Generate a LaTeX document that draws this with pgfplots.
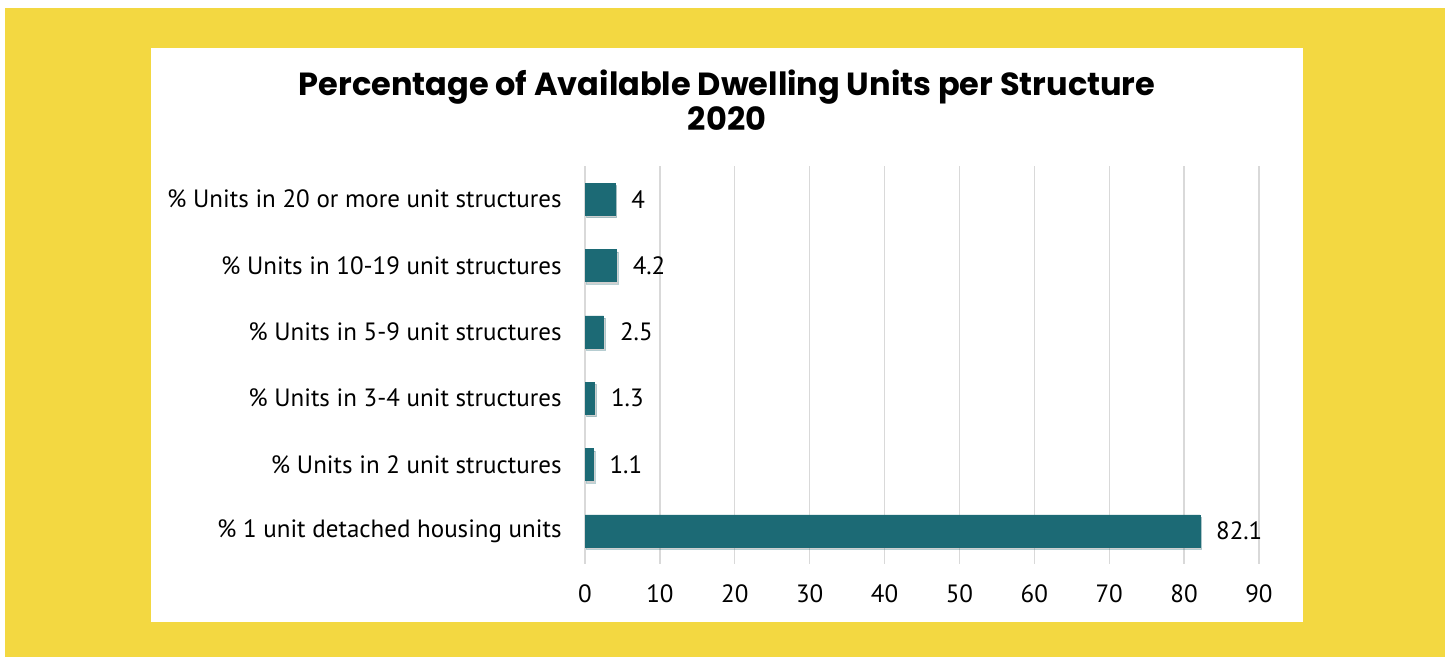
\documentclass[border=0pt]{standalone}
\usepackage{pgfplots}
\pgfplotsset{compat=1.18}
\usepackage{fontspec}
\setmainfont{PT Sans}
\newfontfamily\titlefont{Poppins}
\usetikzlibrary{shadows}
\definecolor{bgyellow}{HTML}{F3D841}
\definecolor{barteal}{HTML}{1C6A75}
\definecolor{gridgray}{HTML}{D9D9D9}
\begin{document}
\begin{tikzpicture}[x=0.5pt,y=0.5pt]
\fill[white] (0,0) rectangle (1445,657);
\fill[bgyellow] (5,0) rectangle (1445,649);
\fill[white] (151,35) rectangle (1303,609);
\node[align=center,font=\titlefont\bfseries\fontsize{16}{16}\selectfont] at (727,557) {Percentage of Available Dwelling Units per Structure\\2020};
\begin{axis}[
  at={(292.5pt,46.5pt)}, anchor=south west,
  scale only axis, width=337pt, height=199pt,
  xbar, bar width=16pt,
  xmin=0, xmax=90, ymin=-0.5, ymax=5.5,
  xtick={0,10,...,90},
  ytick={0,1,2,3,4,5},
  yticklabels={\% 1 unit detached housing units,\% Units in 2 unit structures,\% Units in 3-4 unit structures,\% Units in 5-9 unit structures,\% Units in 10-19 unit structures,\% Units in 20 or more unit structures},
  axis line style={draw=none},
  major tick length=0pt,
  xmajorgrids, ymajorgrids=false,
  grid style={gridgray, line width=0.7pt},
  tick label style={font=\fontsize{12.5}{14}\selectfont},
  /pgf/number format/assume math mode=true,
  yticklabel style={inner sep=0pt, xshift=-11.5pt},
  xticklabel style={inner sep=0pt, yshift=-10pt},
  nodes near coords,
  nodes near coords style={font=\fontsize{12.5}{14}\selectfont, anchor=west, inner sep=0pt, xshift=8pt, text=black},
  point meta=explicit symbolic,
  clip=false,
]
\addplot[fill=barteal, draw=barteal, line width=0.3pt,
  drop shadow={opacity=0.3, fill=black!60, shadow xshift=0.8pt, shadow yshift=-1.2pt}]
  coordinates {(82.1,0) [82.1] (1.1,1) [1.1] (1.3,2) [1.3] (2.5,3) [2.5] (4.2,4) [4.2] (4,5) [4]};
\end{axis}
\end{tikzpicture}
\end{document}
